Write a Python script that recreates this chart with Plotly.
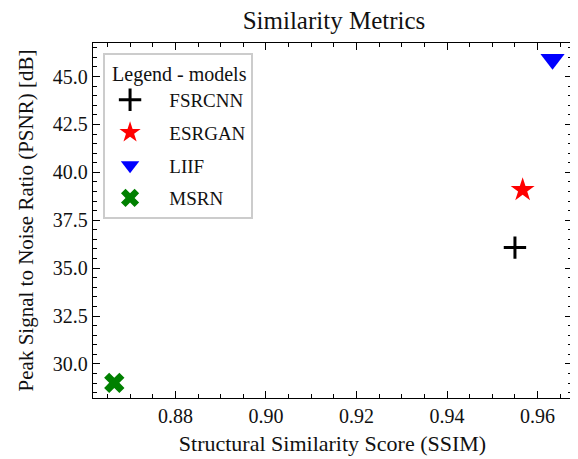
import plotly.graph_objects as go

models = ["FSRCNN", "ESRGAN", "LIIF", "MSRN"]
ssim = [0.9550, 0.9567, 0.9633, 0.8665]
psnr = [36.07, 39.08, 45.90, 29.01]
colors = ["black", "red", "blue", "green"]
symbols = ["cross-thin", "star", "triangle-down", "x"]
sizes = [16, 18, 21, 18]

x_ticks = [0.88, 0.90, 0.92, 0.94, 0.96]
y_ticks = [30.0, 32.5, 35.0, 37.5, 40.0, 42.5, 45.0]

FONT = "Liberation Serif, Times New Roman, serif"
TXT = "#111111"

# page body has an 8px default margin, so the figure is shrunk by 8px
W, H = 570, 451

fig = go.Figure()
for m, x, y, c, s, sz in zip(models, ssim, psnr, colors, symbols, sizes):
    marker = dict(color=c, symbol=s, size=sz)
    if s == "cross-thin":
        marker["line"] = dict(color=c, width=3)
    else:
        marker["line"] = dict(width=0)
    fig.add_trace(go.Scatter(x=[x], y=[y], mode="markers", name="\u00a0\u00a0\u00a0" + m,
                             legendgroup=m, marker=marker, cliponaxis=False))

axis_common = dict(
    showgrid=False, zeroline=False, showline=True, linecolor="black", linewidth=1.3,
    mirror="allticks", ticks="inside", ticklen=7, tickwidth=1.3, tickcolor="black",
    tickfont=dict(family=FONT, size=20, color=TXT), automargin=False,
)
fig.update_xaxes(
    **axis_common, range=[0.8618, 0.9676], tickvals=x_ticks,
    ticktext=[f"{v:.2f}" for v in x_ticks],
    minor=dict(dtick=0.005, tick0=0.86, ticks="inside", ticklen=4, tickwidth=1.1, tickcolor="black"),
    title=dict(text="Structural Similarity Score (SSIM)", font=dict(family=FONT, size=22, color=TXT), standoff=9),
)
fig.update_yaxes(
    **axis_common, range=[28.22, 46.75], tickvals=y_ticks,
    ticktext=[f"{v:.1f}" for v in y_ticks],
    minor=dict(dtick=0.5, tick0=28.0, ticks="inside", ticklen=4, tickwidth=1.1, tickcolor="black"),
    title=dict(text="Peak Signal to Noise Ratio (PSNR) [dB]", font=dict(family=FONT, size=21, color=TXT), standoff=13),
)

fig.update_layout(
    width=W, height=H,
    margin=dict(l=85, r=6, t=35, b=61),
    paper_bgcolor="white", plot_bgcolor="white",
    title=dict(text="Similarity Metrics", x=326 / W, xanchor="center",
               y=1 - 12 / H, yanchor="middle", font=dict(family=FONT, size=25, color=TXT)),
    legend=dict(
        x=0.021, y=0.972, xanchor="left", yanchor="top",
        title=dict(text=" Legend - models", font=dict(family=FONT, size=20, color=TXT)),
        font=dict(family=FONT, size=19, color=TXT),
        bordercolor="#cccccc", borderwidth=2, bgcolor="white",
        itemwidth=40, tracegroupgap=5,
    ),
    showlegend=True,
)

fig.write_html("out.html")
